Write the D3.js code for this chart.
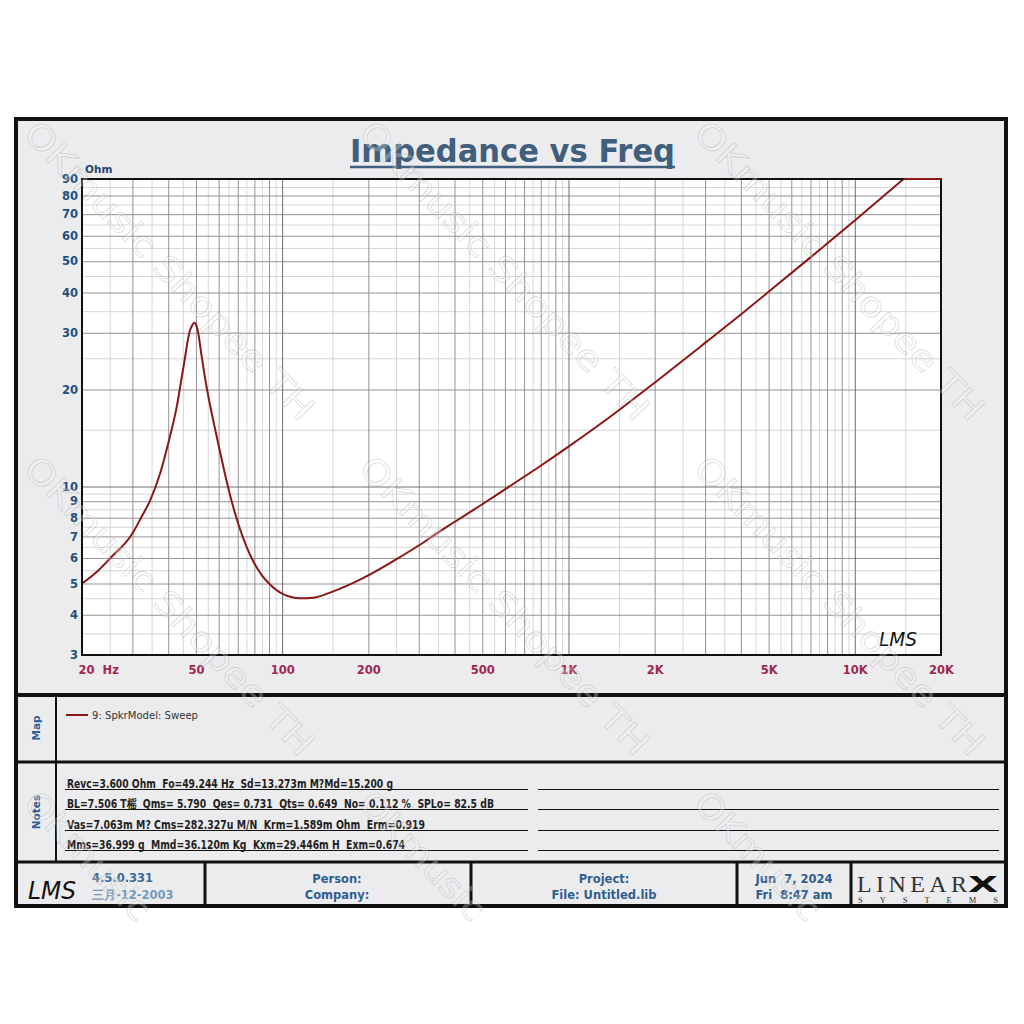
<!DOCTYPE html>
<html><head><meta charset="utf-8">
<script src="https://cdn.jsdelivr.net/npm/d3@7"></script>
<style>body{margin:0;background:#fff}svg{display:block}text{white-space:pre}</style>
</head><body>
<script>
// ---------- data ----------
const freqHz = [20, 22.5, 25.1, 30, 32.3, 34.6, 37.5, 40, 42.8, 45.2, 47.7, 48.5, 49.3, 50.3, 51, 52.1, 53.8, 56, 58.3, 60.7, 63.2, 65.8, 70.3, 75.2, 80, 85, 90, 100, 115.6, 128.5, 150, 200, 250, 300, 350, 400, 500, 600, 800, 1000, 1500, 2000, 3000, 4000, 5000, 7000, 10000, 14800, 20000];
const impedanceOhm = [5.0, 5.43, 5.99, 7.15, 8.06, 9.06, 10.99, 13.6, 17.6, 23.4, 30.6, 31.6, 32.2, 31.4, 29.7, 26.1, 21.7, 17.9, 15.1, 12.8, 10.9, 9.4, 7.65, 6.49, 5.77, 5.3, 5.0, 4.65, 4.5, 4.52, 4.72, 5.30, 5.94, 6.56, 7.19, 7.76, 8.81, 9.8, 11.6, 13.3, 17.25, 21.0, 27.9, 34.2, 40.2, 51.4, 66.9, 90, 90];
const xTickValues = [20, 50, 100, 200, 500, 1000, 2000, 5000, 10000, 20000];
const xTickLabels = ["20  Hz", "50", "100", "200", "500", "1K", "2K", "5K", "10K", "20K"];
const yTickValues = [3, 4, 5, 6, 7, 8, 9, 10, 20, 30, 40, 50, 60, 70, 80, 90];
const yTickLabels = ["3", "4", "5", "6", "7", "8", "9", "10", "20", "30", "40", "50", "60", "70", "80", "90"];
const legendLabels = ["9: SpkrModel: Sweep"];
const notesLines = [
  "Revc=3.600 Ohm  Fo=49.244 Hz  Sd=13.273m M?Md=15.200 g",
  "BL=7.506 T榣  Qms= 5.790  Qes= 0.731  Qts= 0.649  No= 0.112 %  SPLo= 82.5 dB",
  "Vas=7.063m M? Cms=282.327u M/N  Krm=1.589m Ohm  Erm=0.919",
  "Mms=36.999 g  Mmd=36.120m Kg  Kxm=29.446m H  Exm=0.674"
];
const footerVersion = ["4.5.0.331", "三月-12-2003"];
const footerPerson = ["Person:", "Company:"];
const footerProject = ["Project:", "File: Untitled.lib"];
const footerDate = ["Jun  7, 2024", "Fri  8:47 am"];
const titleText = "Impedance vs Freq";
const yUnit = "Ohm";
const watermark = "OKmusic Shopee TH";
const watermarkShort = "OKmusic";

// ---------- layout ----------
const W = 1024, H = 1024;
const L = 82, R = 941, T = 179, B = 655;
const svg = d3.select("body").append("svg").attr("width", W).attr("height", H);
const font = "'DejaVu Sans', Verdana, sans-serif";
const maroon = "#a0284f", curveColor = "#8a1616";

svg.append("rect").attr("x", 16).attr("y", 119).attr("width", 990).attr("height", 787).attr("fill", "#ececee");

const x = d3.scaleLog().domain([20, 20000]).range([L, R]);
const y = d3.scaleLog().domain([3, 90]).range([B, T]).clamp(true);

svg.append("rect").attr("x", L).attr("y", T).attr("width", R - L).attr("height", B - T).attr("fill", "#fff");

function gridVals(lo, hi) {
  const ints = [], halves = [], decs = [];
  for (let d = 1; d <= 100000; d *= 10) {
    for (let k = 1; k < 10; k += 0.5) {
      const v = k * d;
      if (v <= lo * 1.0001 || v >= hi * 0.9999) continue;
      if (k === 1) decs.push(v); else if (Number.isInteger(k)) ints.push(v); else halves.push(v);
    }
  }
  return { ints, halves, decs };
}
const gx = gridVals(20, 20000), gy = gridVals(3, 90);
[["halves", "#d6d6d6"], ["ints", "#939393"], ["decs", "#6e6e6e"]].forEach(([k, c]) => {
  const ax = svg.append("g").attr("transform", `translate(0,${B})`)
    .call(d3.axisBottom(x).tickValues(gx[k]).tickSize(-(B - T)).tickFormat(""));
  ax.select(".domain").remove();
  ax.selectAll("line").attr("stroke", c).attr("stroke-width", 1);
  const ay = svg.append("g").attr("transform", `translate(${L},0)`)
    .call(d3.axisLeft(y).tickValues(gy[k]).tickSize(-(R - L)).tickFormat(""));
  ay.select(".domain").remove();
  ay.selectAll("line").attr("stroke", c).attr("stroke-width", 1);
});

// curve: smooth part below the 90 Ohm ceiling, straight clamped part along it
svg.append("clipPath").attr("id", "clip").append("rect").attr("x", L).attr("y", T - 2).attr("width", R - L).attr("height", B - T + 4);
const pts = freqHz.map((f, i) => ({ f, z: impedanceOhm[i] }));
const capIdx = pts.findIndex(d => d.z >= 90);
const smoothPts = capIdx < 0 ? pts : pts.slice(0, capIdx + 1);
const capPts = capIdx < 0 ? [] : pts.slice(capIdx);
const lineGen = d3.line().x(d => x(d.f)).y(d => y(d.z));
svg.append("path").datum(smoothPts).attr("clip-path", "url(#clip)")
  .attr("fill", "none").attr("stroke", curveColor).attr("stroke-width", 2).attr("stroke-linejoin", "round")
  .attr("d", lineGen.curve(d3.curveMonotoneX)(smoothPts));
if (capPts.length > 1) {
  svg.append("path").datum(capPts).attr("clip-path", "url(#clip)")
    .attr("fill", "none").attr("stroke", curveColor).attr("stroke-width", 2)
    .attr("d", d3.line().x(d => x(d.f)).y(d => y(d.z)).curve(d3.curveLinear)(capPts));
}

svg.append("rect").attr("x", L).attr("y", T).attr("width", R - L).attr("height", B - T)
  .attr("fill", "none").attr("stroke", "#111").attr("stroke-width", 2);
// ceiling segment drawn over the border, as in the reference
if (capPts.length > 1) {
  svg.append("path").datum(capPts)
    .attr("fill", "none").attr("stroke", curveColor).attr("stroke-width", 2)
    .attr("d", d3.line().x(d => x(d.f)).y(d => y(d.z))(capPts));
}

// axes labels
const xa = svg.append("g").attr("transform", `translate(0,${B})`)
  .call(d3.axisBottom(x).tickValues(xTickValues).tickSize(0).tickPadding(11)
    .tickFormat((d, i) => xTickLabels[i]));
xa.select(".domain").remove();
xa.selectAll("text").attr("font-family", font).attr("font-size", 11.5).attr("font-weight", "bold")
  .attr("fill", maroon).attr("text-anchor", (d, i) => i === 0 ? "start" : "middle")
  .attr("dx", (d, i) => i === 0 ? -4 : 0);

const ya = svg.append("g").attr("transform", `translate(${L},0)`)
  .call(d3.axisLeft(y).tickValues(yTickValues).tickSize(0).tickPadding(4)
    .tickFormat((d, i) => yTickLabels[i]));
ya.select(".domain").remove();
ya.selectAll("text").attr("font-family", font).attr("font-size", 11.5).attr("font-weight", "bold").attr("fill", "#1f4f7e");

svg.append("text").attr("x", 85).attr("y", 173).text(yUnit)
  .attr("font-family", font).attr("font-size", 10.5).attr("font-weight", "bold").attr("fill", "#24476d");

// title
svg.append("text").attr("x", 350).attr("y", 162).text(titleText)
  .attr("font-family", font).attr("font-size", 32).attr("font-weight", "bold").attr("fill", "#3f5f7d")
  .attr("textLength", 325).attr("lengthAdjust", "spacingAndGlyphs");
svg.append("line").attr("x1", 350).attr("x2", 675).attr("y1", 167).attr("y2", 167).attr("stroke", "#3f5f7d").attr("stroke-width", 2.5);

// LMS mark in plot
svg.append("text").attr("x", 879).attr("y", 646).text("LMS")
  .attr("font-family", font).attr("font-style", "italic").attr("font-weight", "300").attr("font-size", 19)
  .attr("fill", "#111").attr("textLength", 38).attr("lengthAdjust", "spacingAndGlyphs");

// frame and separators
const black = "#111";
function hline(yv, x1, x2, w) { svg.append("line").attr("x1", x1).attr("x2", x2).attr("y1", yv).attr("y2", yv).attr("stroke", black).attr("stroke-width", w); }
function vline(xv, y1, y2, w) { svg.append("line").attr("x1", xv).attr("x2", xv).attr("y1", y1).attr("y2", y2).attr("stroke", black).attr("stroke-width", w); }
hline(695, 14, 1008, 4);
hline(762, 14, 1008, 3);
hline(862, 14, 1008, 3);
vline(56, 695, 862, 2);
[205, 471, 737, 851].forEach(v => vline(v, 862, 906, 3));
svg.append("rect").attr("x", 16).attr("y", 119).attr("width", 990).attr("height", 787)
  .attr("fill", "none").attr("stroke", black).attr("stroke-width", 4);

[["Map", 728], ["Notes", 812]].forEach(([t, cy]) => {
  svg.append("text").attr("transform", `translate(40,${cy}) rotate(-90)`).attr("text-anchor", "middle").text(t)
    .attr("font-family", font).attr("font-size", 10.5).attr("font-weight", "bold").attr("fill", "#2d5f92");
});

// legend
legendLabels.forEach((t, i) => {
  svg.append("line").attr("x1", 66).attr("x2", 88).attr("y1", 715 + i * 16).attr("y2", 715 + i * 16)
    .attr("stroke", curveColor).attr("stroke-width", 2);
  svg.append("text").attr("x", 92).attr("y", 719 + i * 16).text(t)
    .attr("font-family", "'DejaVu Sans', sans-serif").attr("font-size", 11).attr("fill", "#333")
    .attr("textLength", 106).attr("lengthAdjust", "spacingAndGlyphs");
});

// notes
const notesW = [326, 427, 358, 338];
notesLines.forEach((t, i) => {
  const by = [788, 808, 829, 849][i];
  svg.append("text").attr("x", 67).attr("y", by).text(t)
    .attr("font-family", font).attr("font-size", 11.5).attr("font-weight", "bold").attr("fill", "#1e1e1e")
    .attr("textLength", notesW[i]).attr("lengthAdjust", "spacingAndGlyphs");
  hline(by + 1.5, 65, 528, 1.2);
  hline(by + 1.5, 538, 999, 1.2);
});

// footer
svg.append("text").attr("x", 28).attr("y", 899).text("LMS")
  .attr("font-family", font).attr("font-style", "italic").attr("font-weight", "300").attr("font-size", 25)
  .attr("fill", "#111").attr("textLength", 48).attr("lengthAdjust", "spacingAndGlyphs");
svg.append("text").attr("x", 92).attr("y", 882).text(footerVersion[0])
  .attr("font-family", font).attr("font-size", 11.5).attr("font-weight", "bold").attr("fill", "#3a6a9a");
svg.append("text").attr("x", 92).attr("y", 899).text(footerVersion[1])
  .attr("font-family", font).attr("font-size", 11.5).attr("font-weight", "bold").attr("fill", "#7898bb");
[[footerPerson, 337], [footerProject, 604], [footerDate, 794]].forEach(([arr, cx]) => {
  arr.forEach((t, i) => {
    svg.append("text").attr("x", cx).attr("y", 883 + i * 16).attr("text-anchor", "middle").text(t)
      .attr("font-family", font).attr("font-size", 11.5).attr("font-weight", "bold").attr("fill", "#2f5e8e");
  });
});
svg.append("text").attr("x", 857).attr("y", 892).text("LINEAR")
  .attr("font-family", "'Liberation Serif', 'DejaVu Serif', serif").attr("font-size", 24).attr("fill", "#333")
  .attr("textLength", 110).attr("lengthAdjust", "spacing");
svg.append("text").attr("x", 968).attr("y", 892).text("X")
  .attr("font-family", font).attr("font-size", 22).attr("font-weight", "bold").attr("fill", "#111")
  .attr("textLength", 30).attr("lengthAdjust", "spacingAndGlyphs");
svg.append("text").attr("x", 858).attr("y", 903).text("SYSTEMS")
  .attr("font-family", "'Liberation Serif', serif").attr("font-size", 8.5).attr("fill", "#333")
  .attr("textLength", 140).attr("lengthAdjust", "spacing");

// watermark
const wmX = [22, 357, 692], wmY = [135, 470, 805];
wmY.forEach((yy, r) => wmX.forEach(xx => {
  const t = r < 2 ? watermark : watermarkShort;
  svg.append("text").attr("transform", `translate(${xx},${yy}) rotate(46)`).text(t)
    .attr("font-family", font).attr("font-size", 34).attr("fill", "rgba(255,255,255,0.25)")
    .attr("stroke", "rgba(150,150,150,0.35)").attr("stroke-width", 0.8)
    .attr("textLength", r < 2 ? 400 : 165).attr("lengthAdjust", "spacingAndGlyphs");
}));
</script>
</body></html>
